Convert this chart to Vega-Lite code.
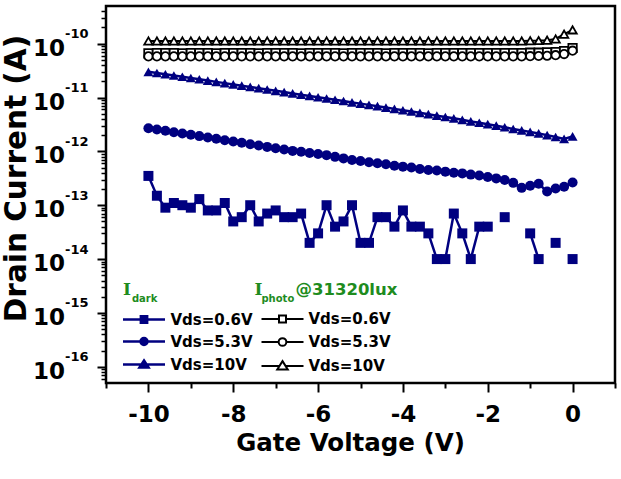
{
  "$schema": "https://vega.github.io/schema/vega-lite/v6.json",
  "width": 509,
  "height": 377,
  "autosize": {"type": "none"},
  "padding": {"left": 106, "top": 6, "right": 6, "bottom": 96},
  "background": "white",
  "config": {
    "view": {"stroke": "black", "strokeWidth": 2.5},
    "font": "DejaVu Sans",
    "axis": {"grid": false, "domain": false, "tickColor": "black", "labelColor": "black", "titleColor": "black"}
  },
  "datasets": {
    "dark": [
      {"Vds": "Vds=0.6V", "Vg": -10, "I": 3.5e-13}, {"Vds": "Vds=0.6V", "Vg": -9.8, "I": 1.5e-13}, {"Vds": "Vds=0.6V", "Vg": -9.6, "I": 9e-14},
      {"Vds": "Vds=0.6V", "Vg": -9.4, "I": 1.1e-13}, {"Vds": "Vds=0.6V", "Vg": -9.2, "I": 1e-13}, {"Vds": "Vds=0.6V", "Vg": -9, "I": 9e-14},
      {"Vds": "Vds=0.6V", "Vg": -8.8, "I": 1.3e-13}, {"Vds": "Vds=0.6V", "Vg": -8.6, "I": 8e-14}, {"Vds": "Vds=0.6V", "Vg": -8.4, "I": 8e-14},
      {"Vds": "Vds=0.6V", "Vg": -8.2, "I": 1.1e-13}, {"Vds": "Vds=0.6V", "Vg": -8, "I": 5e-14}, {"Vds": "Vds=0.6V", "Vg": -7.8, "I": 6e-14},
      {"Vds": "Vds=0.6V", "Vg": -7.6, "I": 1e-13}, {"Vds": "Vds=0.6V", "Vg": -7.4, "I": 5e-14}, {"Vds": "Vds=0.6V", "Vg": -7.2, "I": 7e-14},
      {"Vds": "Vds=0.6V", "Vg": -7, "I": 8e-14}, {"Vds": "Vds=0.6V", "Vg": -6.8, "I": 6e-14}, {"Vds": "Vds=0.6V", "Vg": -6.6, "I": 6e-14},
      {"Vds": "Vds=0.6V", "Vg": -6.4, "I": 7e-14}, {"Vds": "Vds=0.6V", "Vg": -6.2, "I": 2e-14}, {"Vds": "Vds=0.6V", "Vg": -6, "I": 3e-14},
      {"Vds": "Vds=0.6V", "Vg": -5.8, "I": 1e-13}, {"Vds": "Vds=0.6V", "Vg": -5.6, "I": 4e-14}, {"Vds": "Vds=0.6V", "Vg": -5.4, "I": 5e-14},
      {"Vds": "Vds=0.6V", "Vg": -5.2, "I": 1e-13}, {"Vds": "Vds=0.6V", "Vg": -5, "I": 2e-14}, {"Vds": "Vds=0.6V", "Vg": -4.8, "I": 2e-14},
      {"Vds": "Vds=0.6V", "Vg": -4.6, "I": 6e-14}, {"Vds": "Vds=0.6V", "Vg": -4.4, "I": 6e-14}, {"Vds": "Vds=0.6V", "Vg": -4.2, "I": 4e-14},
      {"Vds": "Vds=0.6V", "Vg": -4, "I": 8e-14}, {"Vds": "Vds=0.6V", "Vg": -3.8, "I": 4e-14}, {"Vds": "Vds=0.6V", "Vg": -3.6, "I": 4e-14},
      {"Vds": "Vds=0.6V", "Vg": -3.4, "I": 3e-14}, {"Vds": "Vds=0.6V", "Vg": -3.2, "I": 1e-14}, {"Vds": "Vds=0.6V", "Vg": -3, "I": 1e-14},
      {"Vds": "Vds=0.6V", "Vg": -2.8, "I": 7e-14}, {"Vds": "Vds=0.6V", "Vg": -2.6, "I": 3e-14}, {"Vds": "Vds=0.6V", "Vg": -2.4, "I": 1e-14},
      {"Vds": "Vds=0.6V", "Vg": -2.2, "I": 4e-14}, {"Vds": "Vds=0.6V", "Vg": -2, "I": 4e-14}, {"Vds": "Vds=0.6V", "Vg": -1.8, "I": null},
      {"Vds": "Vds=0.6V", "Vg": -1.6, "I": 6e-14}, {"Vds": "Vds=0.6V", "Vg": -1.4, "I": null}, {"Vds": "Vds=0.6V", "Vg": -1.2, "I": null},
      {"Vds": "Vds=0.6V", "Vg": -1, "I": 3e-14}, {"Vds": "Vds=0.6V", "Vg": -0.8, "I": 1e-14}, {"Vds": "Vds=0.6V", "Vg": -0.6, "I": null},
      {"Vds": "Vds=0.6V", "Vg": -0.4, "I": 2e-14}, {"Vds": "Vds=0.6V", "Vg": -0.2, "I": null}, {"Vds": "Vds=0.6V", "Vg": 0, "I": 1e-14},

      {"Vds": "Vds=5.3V", "Vg": -10, "I": 2.69e-12}, {"Vds": "Vds=5.3V", "Vg": -9.8, "I": 2.55e-12}, {"Vds": "Vds=5.3V", "Vg": -9.6, "I": 2.41e-12},
      {"Vds": "Vds=5.3V", "Vg": -9.4, "I": 2.27e-12}, {"Vds": "Vds=5.3V", "Vg": -9.2, "I": 2.15e-12}, {"Vds": "Vds=5.3V", "Vg": -9, "I": 2.03e-12},
      {"Vds": "Vds=5.3V", "Vg": -8.8, "I": 1.92e-12}, {"Vds": "Vds=5.3V", "Vg": -8.6, "I": 1.81e-12}, {"Vds": "Vds=5.3V", "Vg": -8.4, "I": 1.71e-12},
      {"Vds": "Vds=5.3V", "Vg": -8.2, "I": 1.61e-12}, {"Vds": "Vds=5.3V", "Vg": -8, "I": 1.52e-12}, {"Vds": "Vds=5.3V", "Vg": -7.8, "I": 1.44e-12},
      {"Vds": "Vds=5.3V", "Vg": -7.6, "I": 1.36e-12}, {"Vds": "Vds=5.3V", "Vg": -7.4, "I": 1.28e-12}, {"Vds": "Vds=5.3V", "Vg": -7.2, "I": 1.21e-12},
      {"Vds": "Vds=5.3V", "Vg": -7, "I": 1.14e-12}, {"Vds": "Vds=5.3V", "Vg": -6.8, "I": 1.08e-12}, {"Vds": "Vds=5.3V", "Vg": -6.6, "I": 1.02e-12},
      {"Vds": "Vds=5.3V", "Vg": -6.4, "I": 9.8e-13}, {"Vds": "Vds=5.3V", "Vg": -6.2, "I": 9.3e-13}, {"Vds": "Vds=5.3V", "Vg": -6, "I": 8.9e-13},
      {"Vds": "Vds=5.3V", "Vg": -5.8, "I": 8.5e-13}, {"Vds": "Vds=5.3V", "Vg": -5.6, "I": 7.9e-13}, {"Vds": "Vds=5.3V", "Vg": -5.4, "I": 7.4e-13},
      {"Vds": "Vds=5.3V", "Vg": -5.2, "I": 6.9e-13}, {"Vds": "Vds=5.3V", "Vg": -5, "I": 6.6e-13}, {"Vds": "Vds=5.3V", "Vg": -4.8, "I": 6.3e-13},
      {"Vds": "Vds=5.3V", "Vg": -4.6, "I": 6.0e-13}, {"Vds": "Vds=5.3V", "Vg": -4.4, "I": 5.75e-13}, {"Vds": "Vds=5.3V", "Vg": -4.2, "I": 5.4e-13},
      {"Vds": "Vds=5.3V", "Vg": -4, "I": 5.2e-13}, {"Vds": "Vds=5.3V", "Vg": -3.8, "I": 5.0e-13}, {"Vds": "Vds=5.3V", "Vg": -3.6, "I": 4.7e-13},
      {"Vds": "Vds=5.3V", "Vg": -3.4, "I": 4.5e-13}, {"Vds": "Vds=5.3V", "Vg": -3.2, "I": 4.4e-13}, {"Vds": "Vds=5.3V", "Vg": -3, "I": 4.2e-13},
      {"Vds": "Vds=5.3V", "Vg": -2.8, "I": 4.0e-13}, {"Vds": "Vds=5.3V", "Vg": -2.6, "I": 3.9e-13}, {"Vds": "Vds=5.3V", "Vg": -2.4, "I": 3.7e-13},
      {"Vds": "Vds=5.3V", "Vg": -2.2, "I": 3.55e-13}, {"Vds": "Vds=5.3V", "Vg": -2, "I": 3.35e-13}, {"Vds": "Vds=5.3V", "Vg": -1.8, "I": 3.15e-13},
      {"Vds": "Vds=5.3V", "Vg": -1.6, "I": 2.95e-13}, {"Vds": "Vds=5.3V", "Vg": -1.4, "I": 2.6e-13}, {"Vds": "Vds=5.3V", "Vg": -1.2, "I": 2.1e-13},
      {"Vds": "Vds=5.3V", "Vg": -1, "I": 2.3e-13}, {"Vds": "Vds=5.3V", "Vg": -0.8, "I": 2.5e-13}, {"Vds": "Vds=5.3V", "Vg": -0.6, "I": 1.8e-13},
      {"Vds": "Vds=5.3V", "Vg": -0.4, "I": 2.05e-13}, {"Vds": "Vds=5.3V", "Vg": -0.2, "I": 2.2e-13}, {"Vds": "Vds=5.3V", "Vg": 0, "I": 2.65e-13},

      {"Vds": "Vds=10V", "Vg": -10, "I": 3.0e-11}, {"Vds": "Vds=10V", "Vg": -9.8, "I": 2.85e-11}, {"Vds": "Vds=10V", "Vg": -9.6, "I": 2.7e-11},
      {"Vds": "Vds=10V", "Vg": -9.4, "I": 2.56e-11}, {"Vds": "Vds=10V", "Vg": -9.2, "I": 2.43e-11}, {"Vds": "Vds=10V", "Vg": -9, "I": 2.3e-11},
      {"Vds": "Vds=10V", "Vg": -8.8, "I": 2.18e-11}, {"Vds": "Vds=10V", "Vg": -8.6, "I": 2.06e-11}, {"Vds": "Vds=10V", "Vg": -8.4, "I": 1.95e-11},
      {"Vds": "Vds=10V", "Vg": -8.2, "I": 1.85e-11}, {"Vds": "Vds=10V", "Vg": -8, "I": 1.75e-11}, {"Vds": "Vds=10V", "Vg": -7.8, "I": 1.66e-11},
      {"Vds": "Vds=10V", "Vg": -7.6, "I": 1.57e-11}, {"Vds": "Vds=10V", "Vg": -7.4, "I": 1.49e-11}, {"Vds": "Vds=10V", "Vg": -7.2, "I": 1.41e-11},
      {"Vds": "Vds=10V", "Vg": -7, "I": 1.33e-11}, {"Vds": "Vds=10V", "Vg": -6.8, "I": 1.26e-11}, {"Vds": "Vds=10V", "Vg": -6.6, "I": 1.19e-11},
      {"Vds": "Vds=10V", "Vg": -6.4, "I": 1.13e-11}, {"Vds": "Vds=10V", "Vg": -6.2, "I": 1.07e-11}, {"Vds": "Vds=10V", "Vg": -6, "I": 1.01e-11},
      {"Vds": "Vds=10V", "Vg": -5.8, "I": 9.6e-12}, {"Vds": "Vds=10V", "Vg": -5.6, "I": 9.1e-12}, {"Vds": "Vds=10V", "Vg": -5.4, "I": 8.6e-12},
      {"Vds": "Vds=10V", "Vg": -5.2, "I": 8.1e-12}, {"Vds": "Vds=10V", "Vg": -5, "I": 7.7e-12}, {"Vds": "Vds=10V", "Vg": -4.8, "I": 7.3e-12},
      {"Vds": "Vds=10V", "Vg": -4.6, "I": 6.9e-12}, {"Vds": "Vds=10V", "Vg": -4.4, "I": 6.5e-12}, {"Vds": "Vds=10V", "Vg": -4.2, "I": 6.15e-12},
      {"Vds": "Vds=10V", "Vg": -4, "I": 5.8e-12}, {"Vds": "Vds=10V", "Vg": -3.8, "I": 5.5e-12}, {"Vds": "Vds=10V", "Vg": -3.6, "I": 5.2e-12},
      {"Vds": "Vds=10V", "Vg": -3.4, "I": 4.9e-12}, {"Vds": "Vds=10V", "Vg": -3.2, "I": 4.6e-12}, {"Vds": "Vds=10V", "Vg": -3, "I": 4.35e-12},
      {"Vds": "Vds=10V", "Vg": -2.8, "I": 4.1e-12}, {"Vds": "Vds=10V", "Vg": -2.6, "I": 3.85e-12}, {"Vds": "Vds=10V", "Vg": -2.4, "I": 3.6e-12},
      {"Vds": "Vds=10V", "Vg": -2.2, "I": 3.4e-12}, {"Vds": "Vds=10V", "Vg": -2, "I": 3.2e-12}, {"Vds": "Vds=10V", "Vg": -1.8, "I": 3.0e-12},
      {"Vds": "Vds=10V", "Vg": -1.6, "I": 2.8e-12}, {"Vds": "Vds=10V", "Vg": -1.4, "I": 2.6e-12}, {"Vds": "Vds=10V", "Vg": -1.2, "I": 2.45e-12},
      {"Vds": "Vds=10V", "Vg": -1, "I": 2.3e-12}, {"Vds": "Vds=10V", "Vg": -0.8, "I": 2.15e-12}, {"Vds": "Vds=10V", "Vg": -0.6, "I": 2.0e-12},
      {"Vds": "Vds=10V", "Vg": -0.4, "I": 1.85e-12}, {"Vds": "Vds=10V", "Vg": -0.2, "I": 1.7e-12}, {"Vds": "Vds=10V", "Vg": 0, "I": 1.9e-12}
    ],
    "photo": [
      {"Vds": "Vds=0.6V", "Vg": -10, "I": 6.6e-11}, {"Vds": "Vds=0.6V", "Vg": -9.8, "I": 6.7e-11}, {"Vds": "Vds=0.6V", "Vg": -9.6, "I": 6.7e-11},
      {"Vds": "Vds=0.6V", "Vg": -9.4, "I": 6.7e-11}, {"Vds": "Vds=0.6V", "Vg": -9.2, "I": 6.6e-11}, {"Vds": "Vds=0.6V", "Vg": -9, "I": 6.7e-11},
      {"Vds": "Vds=0.6V", "Vg": -8.8, "I": 6.7e-11}, {"Vds": "Vds=0.6V", "Vg": -8.6, "I": 6.7e-11}, {"Vds": "Vds=0.6V", "Vg": -8.4, "I": 6.6e-11},
      {"Vds": "Vds=0.6V", "Vg": -8.2, "I": 6.7e-11}, {"Vds": "Vds=0.6V", "Vg": -8, "I": 6.7e-11}, {"Vds": "Vds=0.6V", "Vg": -7.8, "I": 6.7e-11},
      {"Vds": "Vds=0.6V", "Vg": -7.6, "I": 6.7e-11}, {"Vds": "Vds=0.6V", "Vg": -7.4, "I": 6.6e-11}, {"Vds": "Vds=0.6V", "Vg": -7.2, "I": 6.7e-11},
      {"Vds": "Vds=0.6V", "Vg": -7, "I": 6.7e-11}, {"Vds": "Vds=0.6V", "Vg": -6.8, "I": 6.7e-11}, {"Vds": "Vds=0.6V", "Vg": -6.6, "I": 6.7e-11},
      {"Vds": "Vds=0.6V", "Vg": -6.4, "I": 6.6e-11}, {"Vds": "Vds=0.6V", "Vg": -6.2, "I": 6.7e-11}, {"Vds": "Vds=0.6V", "Vg": -6, "I": 6.7e-11},
      {"Vds": "Vds=0.6V", "Vg": -5.8, "I": 6.7e-11}, {"Vds": "Vds=0.6V", "Vg": -5.6, "I": 6.7e-11}, {"Vds": "Vds=0.6V", "Vg": -5.4, "I": 6.6e-11},
      {"Vds": "Vds=0.6V", "Vg": -5.2, "I": 6.7e-11}, {"Vds": "Vds=0.6V", "Vg": -5, "I": 6.7e-11}, {"Vds": "Vds=0.6V", "Vg": -4.8, "I": 6.7e-11},
      {"Vds": "Vds=0.6V", "Vg": -4.6, "I": 6.7e-11}, {"Vds": "Vds=0.6V", "Vg": -4.4, "I": 6.6e-11}, {"Vds": "Vds=0.6V", "Vg": -4.2, "I": 6.7e-11},
      {"Vds": "Vds=0.6V", "Vg": -4, "I": 6.7e-11}, {"Vds": "Vds=0.6V", "Vg": -3.8, "I": 6.7e-11}, {"Vds": "Vds=0.6V", "Vg": -3.6, "I": 6.7e-11},
      {"Vds": "Vds=0.6V", "Vg": -3.4, "I": 6.6e-11}, {"Vds": "Vds=0.6V", "Vg": -3.2, "I": 6.7e-11}, {"Vds": "Vds=0.6V", "Vg": -3, "I": 6.7e-11},
      {"Vds": "Vds=0.6V", "Vg": -2.8, "I": 6.7e-11}, {"Vds": "Vds=0.6V", "Vg": -2.6, "I": 6.7e-11}, {"Vds": "Vds=0.6V", "Vg": -2.4, "I": 6.7e-11},
      {"Vds": "Vds=0.6V", "Vg": -2.2, "I": 6.7e-11}, {"Vds": "Vds=0.6V", "Vg": -2, "I": 6.7e-11}, {"Vds": "Vds=0.6V", "Vg": -1.8, "I": 6.7e-11},
      {"Vds": "Vds=0.6V", "Vg": -1.6, "I": 6.7e-11}, {"Vds": "Vds=0.6V", "Vg": -1.4, "I": 6.7e-11}, {"Vds": "Vds=0.6V", "Vg": -1.2, "I": 6.7e-11},
      {"Vds": "Vds=0.6V", "Vg": -1, "I": 6.8e-11}, {"Vds": "Vds=0.6V", "Vg": -0.8, "I": 6.8e-11}, {"Vds": "Vds=0.6V", "Vg": -0.6, "I": 6.9e-11},
      {"Vds": "Vds=0.6V", "Vg": -0.4, "I": 7.0e-11}, {"Vds": "Vds=0.6V", "Vg": -0.2, "I": 7.3e-11}, {"Vds": "Vds=0.6V", "Vg": 0, "I": 8.3e-11},

      {"Vds": "Vds=5.3V", "Vg": -10, "I": 5.8e-11}, {"Vds": "Vds=5.3V", "Vg": -9.8, "I": 5.8e-11}, {"Vds": "Vds=5.3V", "Vg": -9.6, "I": 5.8e-11},
      {"Vds": "Vds=5.3V", "Vg": -9.4, "I": 5.8e-11}, {"Vds": "Vds=5.3V", "Vg": -9.2, "I": 5.8e-11}, {"Vds": "Vds=5.3V", "Vg": -9, "I": 5.8e-11},
      {"Vds": "Vds=5.3V", "Vg": -8.8, "I": 5.8e-11}, {"Vds": "Vds=5.3V", "Vg": -8.6, "I": 5.8e-11}, {"Vds": "Vds=5.3V", "Vg": -8.4, "I": 5.8e-11},
      {"Vds": "Vds=5.3V", "Vg": -8.2, "I": 5.8e-11}, {"Vds": "Vds=5.3V", "Vg": -8, "I": 5.8e-11}, {"Vds": "Vds=5.3V", "Vg": -7.8, "I": 5.8e-11},
      {"Vds": "Vds=5.3V", "Vg": -7.6, "I": 5.8e-11}, {"Vds": "Vds=5.3V", "Vg": -7.4, "I": 5.8e-11}, {"Vds": "Vds=5.3V", "Vg": -7.2, "I": 5.8e-11},
      {"Vds": "Vds=5.3V", "Vg": -7, "I": 5.8e-11}, {"Vds": "Vds=5.3V", "Vg": -6.8, "I": 5.8e-11}, {"Vds": "Vds=5.3V", "Vg": -6.6, "I": 5.8e-11},
      {"Vds": "Vds=5.3V", "Vg": -6.4, "I": 5.8e-11}, {"Vds": "Vds=5.3V", "Vg": -6.2, "I": 5.8e-11}, {"Vds": "Vds=5.3V", "Vg": -6, "I": 5.8e-11},
      {"Vds": "Vds=5.3V", "Vg": -5.8, "I": 5.8e-11}, {"Vds": "Vds=5.3V", "Vg": -5.6, "I": 5.8e-11}, {"Vds": "Vds=5.3V", "Vg": -5.4, "I": 5.8e-11},
      {"Vds": "Vds=5.3V", "Vg": -5.2, "I": 5.8e-11}, {"Vds": "Vds=5.3V", "Vg": -5, "I": 5.8e-11}, {"Vds": "Vds=5.3V", "Vg": -4.8, "I": 5.8e-11},
      {"Vds": "Vds=5.3V", "Vg": -4.6, "I": 5.8e-11}, {"Vds": "Vds=5.3V", "Vg": -4.4, "I": 5.8e-11}, {"Vds": "Vds=5.3V", "Vg": -4.2, "I": 5.8e-11},
      {"Vds": "Vds=5.3V", "Vg": -4, "I": 5.8e-11}, {"Vds": "Vds=5.3V", "Vg": -3.8, "I": 5.8e-11}, {"Vds": "Vds=5.3V", "Vg": -3.6, "I": 5.8e-11},
      {"Vds": "Vds=5.3V", "Vg": -3.4, "I": 5.8e-11}, {"Vds": "Vds=5.3V", "Vg": -3.2, "I": 5.8e-11}, {"Vds": "Vds=5.3V", "Vg": -3, "I": 5.8e-11},
      {"Vds": "Vds=5.3V", "Vg": -2.8, "I": 5.8e-11}, {"Vds": "Vds=5.3V", "Vg": -2.6, "I": 5.8e-11}, {"Vds": "Vds=5.3V", "Vg": -2.4, "I": 5.8e-11},
      {"Vds": "Vds=5.3V", "Vg": -2.2, "I": 5.8e-11}, {"Vds": "Vds=5.3V", "Vg": -2, "I": 5.8e-11}, {"Vds": "Vds=5.3V", "Vg": -1.8, "I": 5.8e-11},
      {"Vds": "Vds=5.3V", "Vg": -1.6, "I": 5.8e-11}, {"Vds": "Vds=5.3V", "Vg": -1.4, "I": 5.8e-11}, {"Vds": "Vds=5.3V", "Vg": -1.2, "I": 5.8e-11},
      {"Vds": "Vds=5.3V", "Vg": -1, "I": 5.85e-11}, {"Vds": "Vds=5.3V", "Vg": -0.8, "I": 5.9e-11}, {"Vds": "Vds=5.3V", "Vg": -0.6, "I": 5.95e-11},
      {"Vds": "Vds=5.3V", "Vg": -0.4, "I": 6.1e-11}, {"Vds": "Vds=5.3V", "Vg": -0.2, "I": 6.4e-11}, {"Vds": "Vds=5.3V", "Vg": 0, "I": 7.4e-11},

      {"Vds": "Vds=10V", "Vg": -10, "I": 1.12e-10}, {"Vds": "Vds=10V", "Vg": -9.8, "I": 1.12e-10}, {"Vds": "Vds=10V", "Vg": -9.6, "I": 1.12e-10},
      {"Vds": "Vds=10V", "Vg": -9.4, "I": 1.12e-10}, {"Vds": "Vds=10V", "Vg": -9.2, "I": 1.12e-10}, {"Vds": "Vds=10V", "Vg": -9, "I": 1.12e-10},
      {"Vds": "Vds=10V", "Vg": -8.8, "I": 1.12e-10}, {"Vds": "Vds=10V", "Vg": -8.6, "I": 1.12e-10}, {"Vds": "Vds=10V", "Vg": -8.4, "I": 1.12e-10},
      {"Vds": "Vds=10V", "Vg": -8.2, "I": 1.12e-10}, {"Vds": "Vds=10V", "Vg": -8, "I": 1.12e-10}, {"Vds": "Vds=10V", "Vg": -7.8, "I": 1.12e-10},
      {"Vds": "Vds=10V", "Vg": -7.6, "I": 1.12e-10}, {"Vds": "Vds=10V", "Vg": -7.4, "I": 1.12e-10}, {"Vds": "Vds=10V", "Vg": -7.2, "I": 1.12e-10},
      {"Vds": "Vds=10V", "Vg": -7, "I": 1.12e-10}, {"Vds": "Vds=10V", "Vg": -6.8, "I": 1.12e-10}, {"Vds": "Vds=10V", "Vg": -6.6, "I": 1.12e-10},
      {"Vds": "Vds=10V", "Vg": -6.4, "I": 1.12e-10}, {"Vds": "Vds=10V", "Vg": -6.2, "I": 1.12e-10}, {"Vds": "Vds=10V", "Vg": -6, "I": 1.12e-10},
      {"Vds": "Vds=10V", "Vg": -5.8, "I": 1.12e-10}, {"Vds": "Vds=10V", "Vg": -5.6, "I": 1.12e-10}, {"Vds": "Vds=10V", "Vg": -5.4, "I": 1.12e-10},
      {"Vds": "Vds=10V", "Vg": -5.2, "I": 1.12e-10}, {"Vds": "Vds=10V", "Vg": -5, "I": 1.12e-10}, {"Vds": "Vds=10V", "Vg": -4.8, "I": 1.12e-10},
      {"Vds": "Vds=10V", "Vg": -4.6, "I": 1.12e-10}, {"Vds": "Vds=10V", "Vg": -4.4, "I": 1.12e-10}, {"Vds": "Vds=10V", "Vg": -4.2, "I": 1.12e-10},
      {"Vds": "Vds=10V", "Vg": -4, "I": 1.12e-10}, {"Vds": "Vds=10V", "Vg": -3.8, "I": 1.12e-10}, {"Vds": "Vds=10V", "Vg": -3.6, "I": 1.12e-10},
      {"Vds": "Vds=10V", "Vg": -3.4, "I": 1.12e-10}, {"Vds": "Vds=10V", "Vg": -3.2, "I": 1.12e-10}, {"Vds": "Vds=10V", "Vg": -3, "I": 1.12e-10},
      {"Vds": "Vds=10V", "Vg": -2.8, "I": 1.12e-10}, {"Vds": "Vds=10V", "Vg": -2.6, "I": 1.12e-10}, {"Vds": "Vds=10V", "Vg": -2.4, "I": 1.12e-10},
      {"Vds": "Vds=10V", "Vg": -2.2, "I": 1.12e-10}, {"Vds": "Vds=10V", "Vg": -2, "I": 1.12e-10}, {"Vds": "Vds=10V", "Vg": -1.8, "I": 1.12e-10},
      {"Vds": "Vds=10V", "Vg": -1.6, "I": 1.12e-10}, {"Vds": "Vds=10V", "Vg": -1.4, "I": 1.12e-10}, {"Vds": "Vds=10V", "Vg": -1.2, "I": 1.12e-10},
      {"Vds": "Vds=10V", "Vg": -1, "I": 1.13e-10}, {"Vds": "Vds=10V", "Vg": -0.8, "I": 1.14e-10}, {"Vds": "Vds=10V", "Vg": -0.6, "I": 1.16e-10},
      {"Vds": "Vds=10V", "Vg": -0.4, "I": 1.22e-10}, {"Vds": "Vds=10V", "Vg": -0.2, "I": 1.5e-10}, {"Vds": "Vds=10V", "Vg": 0, "I": 1.8e-10}
    ],
    "series": [
      {"Vds": "Vds=0.6V"}, {"Vds": "Vds=5.3V"}, {"Vds": "Vds=10V"}
    ],
    "decades": [
      {"tick": 1e-10, "exp": "-10"}, {"tick": 1e-11, "exp": "-11"}, {"tick": 1e-12, "exp": "-12"}, {"tick": 1e-13, "exp": "-13"},
      {"tick": 1e-14, "exp": "-14"}, {"tick": 1e-15, "exp": "-15"}, {"tick": 1e-16, "exp": "-16"}
    ]
  },
  "layer": [
    {
      "data": {"name": "photo"},
      "mark": {"type": "line", "color": "black", "strokeWidth": 2, "invalid": "break-paths-filter-domains"},
      "encoding": {
        "detail": {"field": "Vds"},
        "x": {"field": "Vg", "type": "quantitative", "scale": {"domain": [-11, 1], "nice": false, "zero": false},
          "axis": {"orient": "bottom", "values": [-11, -9, -7, -5, -3, -1, 1], "tickSize": 5, "tickWidth": 2, "labels": false, "title": null}},
        "y": {"field": "I", "type": "quantitative", "scale": {"type": "log", "domain": [5e-17, 5e-10], "nice": false},
          "axis": {"orient": "left", "tickSize": 5, "tickWidth": 1.5, "labels": false, "title": null,
            "values": [6e-17, 7e-17, 8e-17, 9e-17,
              2e-16, 3e-16, 4e-16, 5e-16, 6e-16, 7e-16, 8e-16, 9e-16,
              2e-15, 3e-15, 4e-15, 5e-15, 6e-15, 7e-15, 8e-15, 9e-15,
              2e-14, 3e-14, 4e-14, 5e-14, 6e-14, 7e-14, 8e-14, 9e-14,
              2e-13, 3e-13, 4e-13, 5e-13, 6e-13, 7e-13, 8e-13, 9e-13,
              2e-12, 3e-12, 4e-12, 5e-12, 6e-12, 7e-12, 8e-12, 9e-12,
              2e-11, 3e-11, 4e-11, 5e-11, 6e-11, 7e-11, 8e-11, 9e-11,
              2e-10, 3e-10, 4e-10]}}
      }
    },
    {
      "data": {"name": "photo"},
      "mark": {"type": "point", "filled": true, "fill": "white", "stroke": "black", "strokeWidth": 1.8, "opacity": 1, "size": 70, "invalid": "filter"},
      "encoding": {
        "x": {"field": "Vg", "type": "quantitative", "axis": null},
        "y": {"field": "I", "type": "quantitative", "axis": null},
        "shape": {"field": "Vds", "type": "nominal",
          "scale": {"domain": ["Vds=0.6V", "Vds=5.3V", "Vds=10V"], "range": ["square", "circle", "triangle-up"]},
          "legend": null}
      }
    },
    {
      "data": {"name": "dark"},
      "mark": {"type": "line", "color": "#000080", "strokeWidth": 2.5, "invalid": "break-paths-filter-domains"},
      "encoding": {
        "detail": {"field": "Vds"},
        "x": {"field": "Vg", "type": "quantitative", "axis": null},
        "y": {"field": "I", "type": "quantitative", "axis": null}
      }
    },
    {
      "data": {"name": "dark"},
      "mark": {"type": "point", "filled": true, "color": "#000080", "opacity": 1, "size": 100, "invalid": "filter"},
      "encoding": {
        "x": {"field": "Vg", "type": "quantitative",
          "axis": {"orient": "bottom", "values": [-10, -8, -6, -4, -2, 0], "labelExpr": "datum.value + ''",
            "tickSize": 9, "tickWidth": 2, "labelFont": "DejaVu Sans", "labelFontWeight": "bold", "labelFontSize": 23,
            "labelPadding": 11, "labelFlush": false, "labelOverlap": false,
            "title": "Gate Voltage (V)", "titleFont": "DejaVu Sans", "titleFontWeight": "bold", "titleFontSize": 24.5,
            "titleX": 244, "titleY": 67, "titleBaseline": "alphabetic", "titleAlign": "center"}},
        "y": {"field": "I", "type": "quantitative",
          "axis": {"orient": "left", "values": [1e-16, 1e-15, 1e-14, 1e-13, 1e-12, 1e-11, 1e-10],
            "labels": false, "tickSize": 9, "tickWidth": 2,
            "title": "Drain Current (A)", "titleFont": "DejaVu Sans", "titleFontWeight": "bold", "titleFontSize": 29.5,
            "titleX": -81, "titleY": 172, "titleBaseline": "alphabetic", "titleAlign": "center", "titleAngle": -90}},
        "shape": {"field": "Vds", "type": "nominal",
          "scale": {"domain": ["Vds=0.6V", "Vds=5.3V", "Vds=10V"], "range": ["square", "circle", "triangle-up"]},
          "legend": null}
      }
    },
    {
      "data": {"name": "series"},
      "mark": {"type": "point", "filled": false, "color": "#000080", "fill": "#000080", "strokeWidth": 2.5, "opacity": 1, "size": 0},
      "encoding": {
        "shape": {"field": "Vds", "type": "nominal",
          "scale": {"domain": ["Vds=0.6V", "Vds=5.3V", "Vds=10V"],
            "range": ["M-3,0H3M-0.45,-0.45H0.45V0.45H-0.45Z",
                      "M-3,0H3M-0.5,0A0.5,0.5,0,1,0,0.5,0A0.5,0.5,0,1,0,-0.5,0Z",
                      "M-3,0H3M0,-0.58L0.65,0.42H-0.65Z"]},
          "legend": {"title": null, "orient": "none", "legendX": 29.5, "legendY": 305, "padding": 0, "rowPadding": 5,
            "labelFont": "DejaVu Sans", "labelFontWeight": "bold", "labelFontSize": 15, "labelColor": "black", "labelOffset": 18,
            "symbolSize": 196, "symbolStrokeWidth": 2.5}}
      }
    },
    {
      "data": {"name": "series"},
      "mark": {"type": "point", "filled": true, "fill": "white", "stroke": "black", "strokeWidth": 2, "opacity": 1, "size": 0},
      "encoding": {
        "shape": {"field": "Vds", "type": "nominal",
          "scale": {"domain": ["Vds=0.6V", "Vds=5.3V", "Vds=10V"],
            "range": ["M-3,0H-0.5M0.5,0H3M-0.5,-0.5H0.5V0.5H-0.5Z",
                      "M-3,0H-0.55M0.55,0H3M-0.55,0A0.55,0.55,0,1,0,0.55,0A0.55,0.55,0,1,0,-0.55,0Z",
                      "M-3,0H-0.42M0.42,0H3M0,-0.7L0.75,0.5H-0.75Z"]},
          "legend": {"title": null, "orient": "none", "legendX": 168.5, "legendY": 305, "padding": 0, "rowPadding": 7,
            "labelFont": "DejaVu Sans", "labelFontWeight": "bold", "labelFontSize": 15, "labelColor": "black", "labelOffset": 18,
            "symbolSize": 196, "symbolStrokeWidth": 2}}
      }
    },
    {
      "data": {"name": "decades"},
      "mark": {"type": "text", "text": "10", "font": "DejaVu Sans", "fontWeight": "bold", "fontSize": 23, "color": "black", "align": "right", "baseline": "alphabetic", "dx": -41, "dy": 12},
      "encoding": {
        "x": {"datum": -11, "axis": null},
        "y": {"field": "tick", "type": "quantitative", "axis": null}
      }
    },
    {
      "data": {"name": "decades"},
      "mark": {"type": "text", "font": "DejaVu Sans", "fontWeight": "bold", "fontSize": 13, "color": "black", "align": "left", "baseline": "alphabetic", "dx": -41, "dy": -5.5},
      "encoding": {
        "x": {"datum": -11, "axis": null},
        "y": {"field": "tick", "type": "quantitative", "axis": null},
        "text": {"field": "exp"}
      }
    },
    {
      "data": {"values": [{}]},
      "mark": {"type": "text", "text": "I", "font": "DejaVu Serif", "fontWeight": "bold", "fontSize": 17, "color": "#1e8c1e", "align": "left", "baseline": "alphabetic"},
      "encoding": {"x": {"datum": -10.6, "axis": null}, "y": {"datum": 2.16e-15, "axis": null}}
    },
    {
      "data": {"values": [{}]},
      "mark": {"type": "text", "text": "dark", "font": "DejaVu Sans", "fontWeight": "bold", "fontSize": 10, "color": "#1e8c1e", "align": "left", "baseline": "alphabetic", "dx": 9, "dy": 7},
      "encoding": {"x": {"datum": -10.6, "axis": null}, "y": {"datum": 2.16e-15, "axis": null}}
    },
    {
      "data": {"values": [{}]},
      "mark": {"type": "text", "text": "I", "font": "DejaVu Serif", "fontWeight": "bold", "fontSize": 17, "color": "#1e8c1e", "align": "left", "baseline": "alphabetic"},
      "encoding": {"x": {"datum": -7.5, "axis": null}, "y": {"datum": 2.16e-15, "axis": null}}
    },
    {
      "data": {"values": [{}]},
      "mark": {"type": "text", "text": "photo", "font": "DejaVu Sans", "fontWeight": "bold", "fontSize": 10, "color": "#1e8c1e", "align": "left", "baseline": "alphabetic", "dx": 7, "dy": 7},
      "encoding": {"x": {"datum": -7.5, "axis": null}, "y": {"datum": 2.16e-15, "axis": null}}
    },
    {
      "data": {"values": [{}]},
      "mark": {"type": "text", "text": "@31320lux", "font": "DejaVu Sans", "fontWeight": "bold", "fontSize": 16.5, "color": "#1e8c1e", "align": "left", "baseline": "alphabetic", "dx": 41},
      "encoding": {"x": {"datum": -7.5, "axis": null}, "y": {"datum": 2.16e-15, "axis": null}}
    }
  ],
  "resolve": {"axis": {"x": "independent", "y": "independent"}, "scale": {"shape": "independent"}}
}
